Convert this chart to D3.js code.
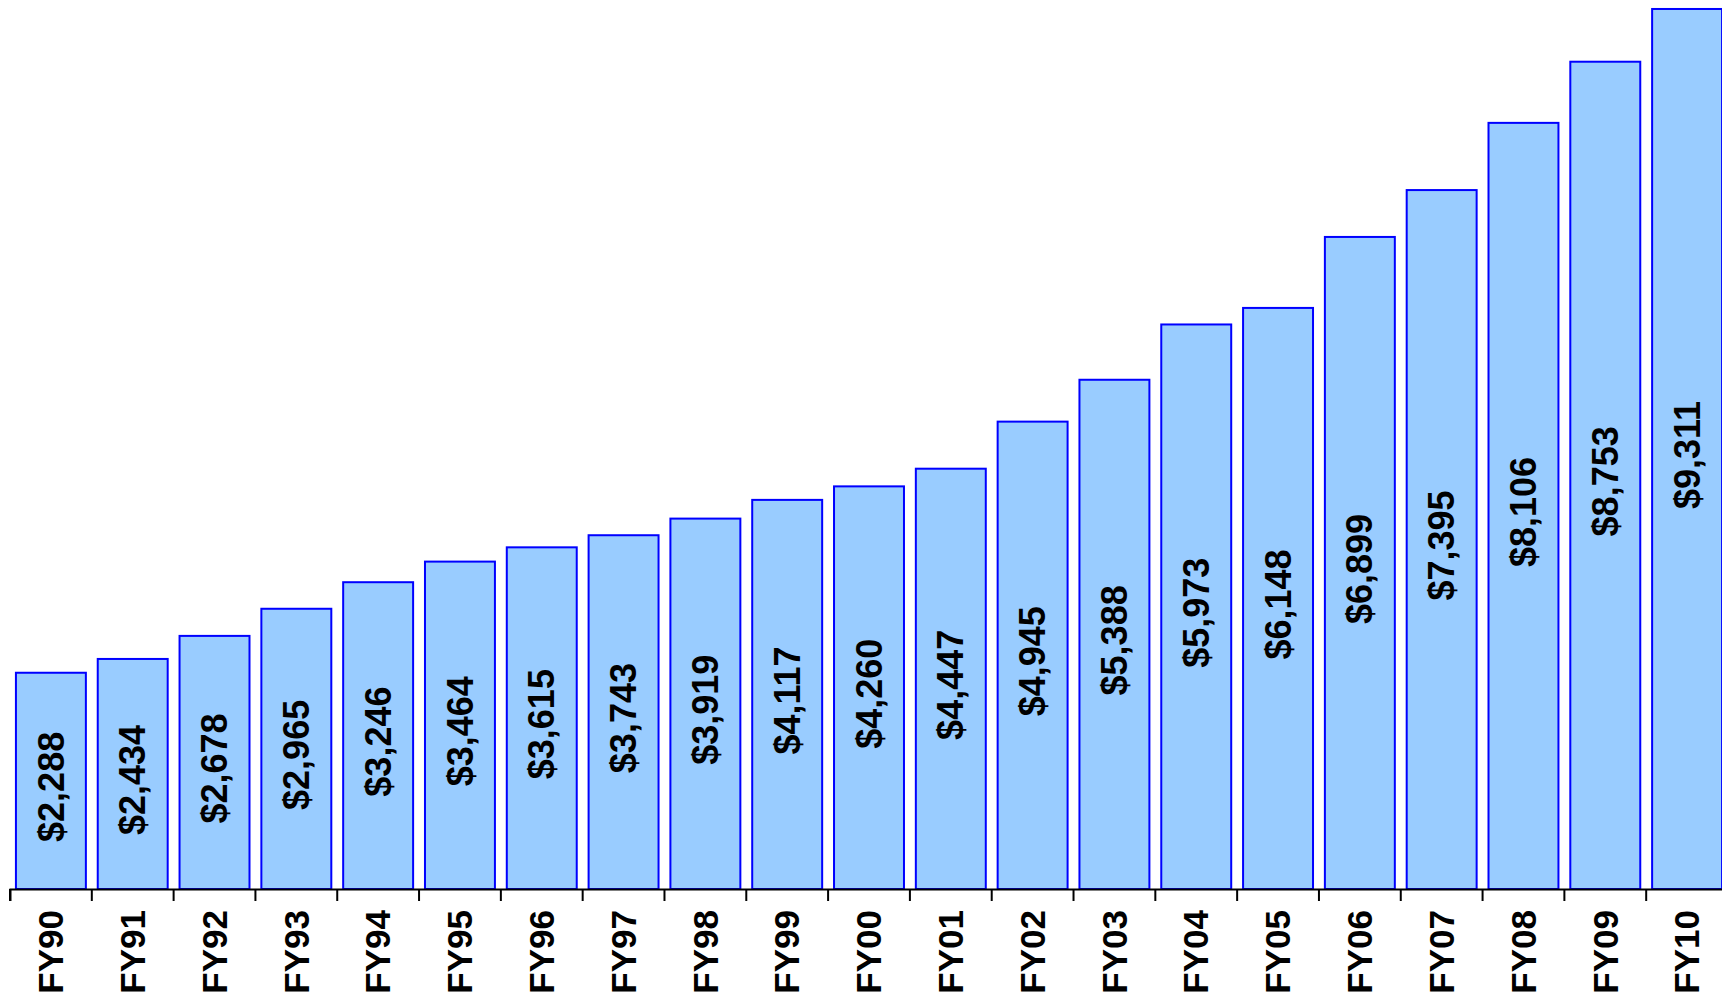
<!DOCTYPE html>
<html>
<head>
<meta charset="utf-8">
<script src="https://cdn.jsdelivr.net/npm/d3@7"></script>
<style>
  html, body { margin: 0; padding: 0; background: #fff; }
  svg { display: block; }
</style>
</head>
<body>
<script>
"use strict";

// fiscal years and values
const years = ["FY90", "FY91", "FY92", "FY93", "FY94", "FY95", "FY96", "FY97", "FY98", "FY99", "FY00",
  "FY01", "FY02", "FY03", "FY04", "FY05", "FY06", "FY07", "FY08", "FY09", "FY10"];
const amounts = [2288, 2434, 2678, 2965, 3246, 3464, 3615, 3743, 3919, 4117, 4260,
  4447, 4945, 5388, 5973, 6148, 6899, 7395, 8106, 8753, 9311];

const width = 1722,
    height = 1000,
    baseline = 889;

const data = years.map((y, i) => ({ year: y, value: amounts[i] }));

const x = d3.scaleBand()
    .domain(years)
    .range([10, 1728])
    .paddingInner(0.145)
    .paddingOuter(0.0725);

const y = d3.scaleLinear()
    .domain([0, 9406])
    .range([baseline, 0]);

const fmt = d3.format(",d");

const svg = d3.select("body").append("svg")
    .attr("width", width)
    .attr("height", height);

// bars
svg.selectAll("rect.bar")
    .data(data)
  .enter().append("rect")
    .attr("class", "bar")
    .attr("x", d => x(d.year))
    .attr("y", d => y(d.value))
    .attr("width", x.bandwidth())
    .attr("height", d => baseline - y(d.value))
    .style("fill", "#99ccff")
    .style("stroke", "#0000ff")
    .style("stroke-width", 2);

// value labels, rotated inside the bars
svg.selectAll("text.val")
    .data(data)
  .enter().append("text")
    .attr("class", "val")
    .attr("transform", d => "translate(" + (x(d.year) + x.bandwidth() / 2) + "," + ((y(d.value) + baseline) / 2 + 6) + ") rotate(-90)")
    .attr("text-anchor", "middle")
    .attr("dy", "0.35em")
    .style("font-family", "'Liberation Sans', Arial, sans-serif")
    .style("font-weight", "bold")
    .style("font-size", "36px")
    .style("fill", "#000")
    .text(d => "$" + fmt(d.value));

// x axis, ticks sit between the bars
const xAxis = d3.axisBottom(x).tickSizeOuter(0).tickSize(12).tickPadding(0);

const gx = svg.append("g")
    .attr("transform", "translate(0," + baseline + ")")
    .call(xAxis);

gx.select(".domain").style("stroke", "#000").style("stroke-width", 2);
gx.selectAll(".tick line")
    .attr("x1", -x.step() / 2)
    .attr("x2", -x.step() / 2)
    .style("stroke", "#000")
    .style("stroke-width", 2);

gx.selectAll(".tick text")
    .attr("transform", "rotate(-90)")
    .attr("text-anchor", "end")
    .attr("x", -21)
    .attr("y", 0)
    .attr("dy", "0.35em")
    .style("font-family", "'Liberation Sans', Arial, sans-serif")
    .style("font-weight", "bold")
    .style("font-size", "35px")
    .style("fill", "#000");
</script>
</body>
</html>
